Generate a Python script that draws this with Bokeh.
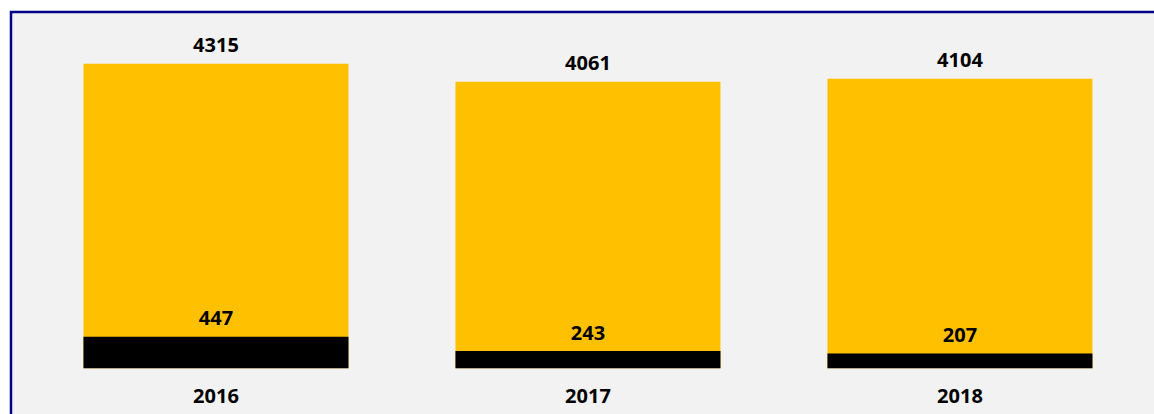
import numpy as np
from bokeh.plotting import figure
from bokeh.models import Range1d
from bokeh.core.properties import value
from bokeh.embed import file_html
from bokeh.resources import INLINE

years = ["2016", "2017", "2018"]
totals = [4315, 4061, 4104]
subset = [447, 243, 207]

xs = list(range(len(years)))

p = figure(width=1145, height=404, output_backend="svg", toolbar_location=None,
           title=None, x_axis_location=None, y_axis_location=None,
           x_range=Range1d(-0.547, 2.523), y_range=Range1d(-656, 5028),
           min_border_left=3, min_border_top=3, min_border_right=0, min_border_bottom=0)
p.margin = (10, 0, 0, 9)
p.border_fill_color = "#000088"
p.background_fill_color = "#F2F2F2"
p.outline_line_color = None
p.grid.visible = False

bw = 0.7124
p.vbar(x=xs, top=totals, bottom=0, width=bw, fill_color="#FFC000", line_color=None)
p.vbar(x=xs, top=subset, bottom=0, width=bw, fill_color="#000000", line_color=None)

font = value("Open Sans")
common = dict(text_font=font, text_font_style="bold", text_font_size="20px",
              text_color="#000000", text_align="center", text_baseline="alphabetic")
p.text(x=xs, y=totals, text=[str(v) for v in totals], y_offset=-18.5, **common)
p.text(x=xs, y=subset, text=[str(v) for v in subset], y_offset=-18.5, **common)
p.text(x=xs, y=[0] * len(xs), text=years, y_offset=28, **common)

open("out.html", "w").write(file_html(p, INLINE))
